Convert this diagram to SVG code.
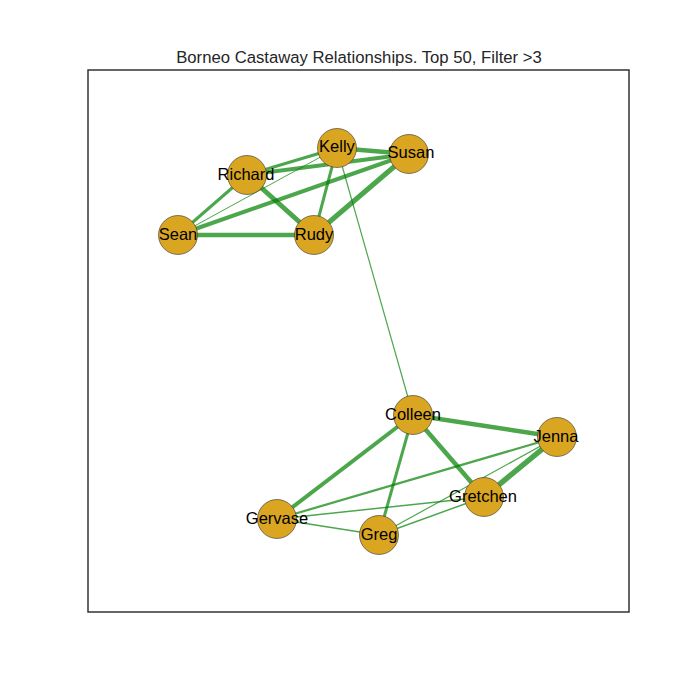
<svg xmlns="http://www.w3.org/2000/svg" width="700" height="700" viewBox="0 0 700 700">
<style>
.e{stroke:#008000;stroke-opacity:0.7;fill:none}
.n circle{fill:#DAA520;stroke:#333;stroke-width:0.6}
.n text{font-family:"Liberation Sans",Arial,sans-serif;font-size:16.5px;fill:#000;text-anchor:middle;dominant-baseline:central}
.t{font-family:"Liberation Sans",Arial,sans-serif;font-size:16.7px;fill:#262626;text-anchor:middle}
</style>
<rect x="0" y="0" width="700" height="700" fill="#fff"/>
<rect x="88" y="70" width="541" height="542" fill="none" stroke="#333" stroke-width="1.5"/>
<text class="t" x="359" y="63">Borneo Castaway Relationships. Top 50, Filter &gt;3</text>
<g id="edges">
<line class="e" x1="337" y1="148" x2="409" y2="154" stroke-width="4.5"/>
<line class="e" x1="247" y1="175" x2="337" y2="148" stroke-width="3"/>
<line class="e" x1="247" y1="175" x2="409" y2="154" stroke-width="4"/>
<line class="e" x1="247" y1="175" x2="178" y2="235" stroke-width="3"/>
<line class="e" x1="247" y1="175" x2="314" y2="235" stroke-width="5"/>
<line class="e" x1="337" y1="148" x2="314" y2="235" stroke-width="3"/>
<line class="e" x1="409" y1="154" x2="314" y2="235" stroke-width="5"/>
<line class="e" x1="178" y1="235" x2="409" y2="154" stroke-width="4"/>
<line class="e" x1="178" y1="235" x2="337" y2="148" stroke-width="1"/>
<line class="e" x1="178" y1="235" x2="314" y2="235" stroke-width="4.5"/>
<line class="e" x1="337" y1="148" x2="413" y2="415" stroke-width="1.2"/>
<line class="e" x1="413" y1="415" x2="557" y2="437" stroke-width="4.5"/>
<line class="e" x1="413" y1="415" x2="484" y2="497" stroke-width="4.5"/>
<line class="e" x1="413" y1="415" x2="277" y2="519" stroke-width="4"/>
<line class="e" x1="413" y1="415" x2="379" y2="535" stroke-width="3"/>
<line class="e" x1="557" y1="437" x2="484" y2="497" stroke-width="5.5"/>
<line class="e" x1="557" y1="437" x2="277" y2="519" stroke-width="2.2"/>
<line class="e" x1="557" y1="437" x2="379" y2="535" stroke-width="1.2"/>
<line class="e" x1="484" y1="497" x2="277" y2="519" stroke-width="1.5"/>
<line class="e" x1="484" y1="497" x2="379" y2="535" stroke-width="1.5"/>
<line class="e" x1="277" y1="519" x2="379" y2="535" stroke-width="1.5"/>
</g>
<g id="Kelly" class="n"><circle cx="337" cy="148" r="19.5"/><text x="337" y="146">Kelly</text></g>
<g id="Susan" class="n"><circle cx="409" cy="154" r="19.5"/><text x="411" y="152">Susan</text></g>
<g id="Richard" class="n"><circle cx="247" cy="175" r="19.5"/><text x="246" y="174">Richard</text></g>
<g id="Sean" class="n"><circle cx="178" cy="235" r="19.5"/><text x="178" y="234">Sean</text></g>
<g id="Rudy" class="n"><circle cx="314" cy="235" r="19.5"/><text x="314" y="234">Rudy</text></g>
<g id="Colleen" class="n"><circle cx="413" cy="415" r="19.5"/><text x="413" y="414">Colleen</text></g>
<g id="Jenna" class="n"><circle cx="557" cy="437" r="19.5"/><text x="556" y="436">Jenna</text></g>
<g id="Gretchen" class="n"><circle cx="484" cy="497" r="19.5"/><text x="483" y="496">Gretchen</text></g>
<g id="Gervase" class="n"><circle cx="277" cy="519" r="19.5"/><text x="277" y="518">Gervase</text></g>
<g id="Greg" class="n"><circle cx="379" cy="535" r="19.5"/><text x="379" y="534">Greg</text></g>
</svg>
